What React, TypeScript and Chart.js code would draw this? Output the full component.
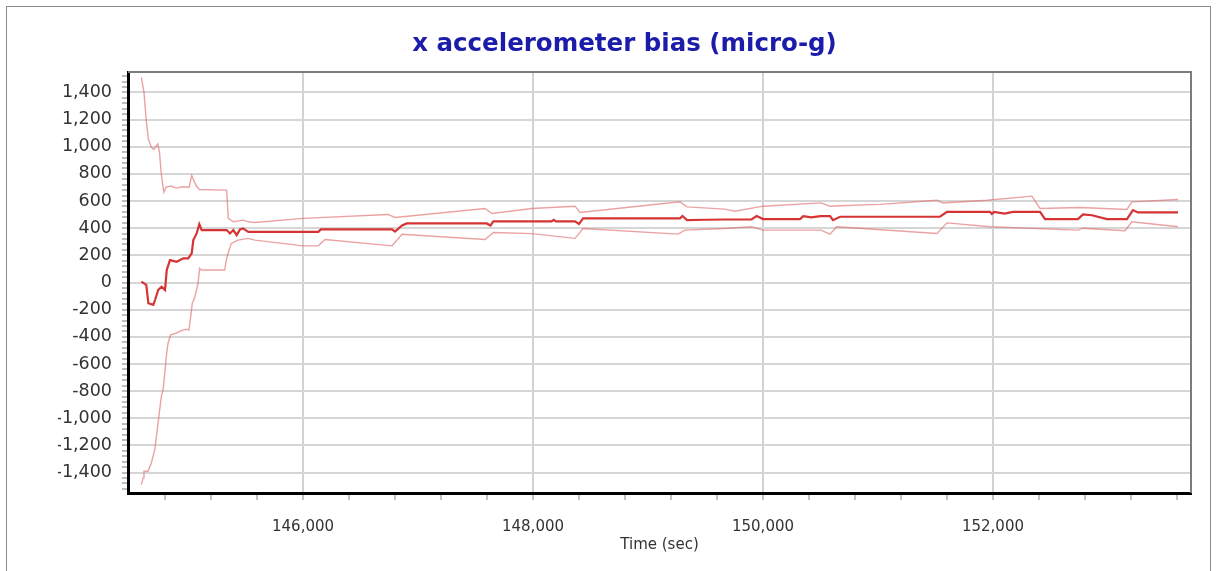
import React, { useEffect, useRef } from "react";
import { Chart, registerables } from "chart.js";

Chart.register(...registerables);

const TITLE = "x accelerometer bias (micro-g)";
const X_TITLE = "Time (sec)";
const X_MIN = 144478;
const X_MAX = 153722;
const Y_MIN = -1550;
const Y_MAX = 1550;
const X_MAJOR_STEP = 2000;
const X_MINOR_STEP = 400;
const Y_MAJOR_STEP = 200;
const Y_MINOR_STEP = 40;

const midTime = [144594,144637,144655,144698,144713,144741,144771,144800,144815,144843,144901,144959,145002,145032,145046,145075,145098,145119,145336,145365,145394,145423,145452,145478,145524,146133,146155,146774,146800,146861,146902,147597,147630,147655,148162,148180,148200,148365,148400,148435,149278,149300,149339,149500,149669,149900,149945,150000,150322,150350,150420,150500,150583,150609,150670,151539,151600,151974,151990,152010,152100,152174,152409,152453,152739,152783,152860,152991,153165,153217,153260,153609];
const midValue = [6,-18,-153,-165,-129,-55,-31,-55,92,165,153,178,178,215,312,361,430,386,386,361,386,349,391,398,373,373,391,391,375,420,435,435,420,450,450,462,450,450,430,472,472,490,459,462,464,464,489,467,467,489,480,489,489,459,484,484,520,520,505,520,508,520,520,467,467,501,495,467,467,533,516,516];

const upperTime = [144594,144617,144637,144655,144681,144702,144737,144752,144766,144781,144790,144809,144850,144900,144950,145010,145032,145070,145098,145319,145336,145350,145394,145480,145524,145583,146000,146739,146800,147583,147644,147991,148365,148409,149278,149339,149669,149757,150000,150504,150583,150670,151018,151513,151565,151948,152339,152409,152757,153165,153208,153609];
const upperValue = [1510,1400,1192,1057,996,979,1020,959,812,714,665,702,710,695,705,702,788,714,685,680,680,472,447,459,447,442,472,501,479,545,508,545,562,516,594,557,540,525,562,586,562,565,575,606,586,606,636,545,552,538,594,611];

const lowerTime = [144594,144609,144617,144652,144681,144711,144739,144768,144783,144798,144811,144826,144849,144898,144941,144985,145008,145023,145037,145058,145072,145087,145101,145115,145319,145333,145348,145377,145435,145522,145583,146000,146133,146191,146774,146861,147583,147655,147991,148365,148435,149261,149320,149669,149900,150000,150504,150583,150640,151513,151600,151974,152739,152783,153148,153208,153609];
const lowerValue = [-1488,-1439,-1390,-1390,-1329,-1231,-1035,-839,-790,-667,-545,-447,-386,-373,-354,-344,-349,-251,-153,-110,-60,-6,104,92,92,165,215,288,312,325,312,270,270,317,270,355,317,368,360,325,398,356,386,398,410,386,386,356,410,361,439,410,386,400,381,447,410];

const zip = (xs: number[], ys: number[]) =>
  xs.slice(0, Math.min(xs.length, ys.length)).map((x, i) => ({ x, y: ys[i] }));

const fmt = (v: number) => v.toLocaleString("en-US");

const framePlugin = {
  id: "plotFrame",
  afterDatasetsDraw(chart: any) {
    const { ctx, chartArea } = chart;
    const { left, top, right, bottom } = chartArea;
    ctx.save();
    ctx.strokeStyle = "#7c7c7c";
    ctx.lineWidth = 2;
    ctx.beginPath();
    ctx.moveTo(left, top);
    ctx.lineTo(right, top);
    ctx.lineTo(right, bottom);
    ctx.stroke();
    ctx.restore();
  },
};

export default function App() {
  const ref = useRef<HTMLCanvasElement | null>(null);

  useEffect(() => {
    if (!ref.current) return;
    const chart = new Chart(ref.current, {
      type: "line",
      data: {
        datasets: [
          {
            label: "bias",
            data: zip(midTime, midValue),
            borderColor: "#d63434",
            borderWidth: 2.2,
            pointRadius: 0,
            tension: 0,
          },
          {
            label: "upper",
            data: zip(upperTime, upperValue),
            borderColor: "rgba(222,100,100,0.6)",
            borderWidth: 1.4,
            pointRadius: 0,
            tension: 0,
          },
          {
            label: "lower",
            data: zip(lowerTime, lowerValue),
            borderColor: "rgba(222,100,100,0.6)",
            borderWidth: 1.4,
            pointRadius: 0,
            tension: 0,
          },
        ],
      },
      plugins: [framePlugin],
      options: {
        animation: false,
        responsive: false,
        devicePixelRatio: 1,
        layout: { padding: { left: 58, right: 26, top: 0, bottom: 0 } },
        plugins: {
          legend: { display: false },
          tooltip: { enabled: false },
          title: {
            display: true,
            text: TITLE,
            color: "#1c1caa",
            font: { family: "DejaVu Sans", size: 24.5, weight: "bold" },
            padding: { top: 30.3, bottom: 12.3 },
          },
        },
        scales: {
          x: {
            type: "linear",
            min: X_MIN,
            max: X_MAX,
            afterFit: (s: any) => {
              s.height = 78;
            },
            afterBuildTicks: (s: any) => {
              const t: { value: number }[] = [];
              const start = Math.ceil(X_MIN / X_MINOR_STEP) * X_MINOR_STEP;
              for (let v = start; v <= X_MAX; v += X_MINOR_STEP) t.push({ value: v });
              s.ticks = t;
            },
            grid: {
              color: (c: any) =>
                c.tick && c.tick.value % X_MAJOR_STEP === 0 ? "#d2d2d2" : "rgba(0,0,0,0)",
              lineWidth: 2,
              tickColor: "#c4c4c4",
              tickLength: 7,
              drawOnChartArea: true,
            },
            border: { color: "#000", width: 3 },
            ticks: {
              autoSkip: false,
              maxRotation: 0,
              padding: 18,
              color: "#333",
              font: { family: "DejaVu Sans", size: 15 },
              callback: (v: any) => (Number(v) % X_MAJOR_STEP === 0 ? fmt(Number(v)) : ""),
            },
            title: {
              display: true,
              text: X_TITLE,
              color: "#333",
              font: { family: "DejaVu Sans", size: 15 },
              padding: { top: 0, bottom: 17 },
            },
          },
          y: {
            type: "linear",
            min: Y_MIN,
            max: Y_MAX,
            afterFit: (s: any) => {
              s.width = 70;
            },
            afterBuildTicks: (s: any) => {
              const t: { value: number }[] = [];
              const start = Math.ceil(Y_MIN / Y_MINOR_STEP) * Y_MINOR_STEP;
              for (let v = start; v <= Y_MAX; v += Y_MINOR_STEP) t.push({ value: v });
              s.ticks = t;
            },
            grid: {
              color: (c: any) =>
                c.tick && c.tick.value % Y_MAJOR_STEP === 0 ? "#d6d6d6" : "rgba(0,0,0,0)",
              lineWidth: 2,
              tickColor: "#bdbdbd",
              tickLength: 6,
            },
            border: { color: "#000", width: 3 },
            ticks: {
              autoSkip: false,
              padding: 10,
              color: "#333",
              font: { family: "DejaVu Sans", size: 17.5 },
              callback: (v: any) => (Number(v) % Y_MAJOR_STEP === 0 ? fmt(Number(v)) : ""),
            },
          },
        },
      },
    } as any);
    return () => chart.destroy();
  }, []);

  return (
    <div
      style={{
        position: "fixed",
        left: 0,
        top: 0,
        width: 1217,
        height: 571,
        overflow: "hidden",
        background: "#fff",
      }}
    >
      <div
        style={{
          position: "absolute",
          left: 6,
          top: 6,
          width: 1205,
          height: 600,
          border: "1px solid #8a8a8a",
          boxSizing: "border-box",
        }}
      />
      <canvas
        ref={ref}
        width={1217}
        height={571}
        style={{ position: "absolute", left: 0, top: 0, width: 1217, height: 571 }}
      />
    </div>
  );
}
